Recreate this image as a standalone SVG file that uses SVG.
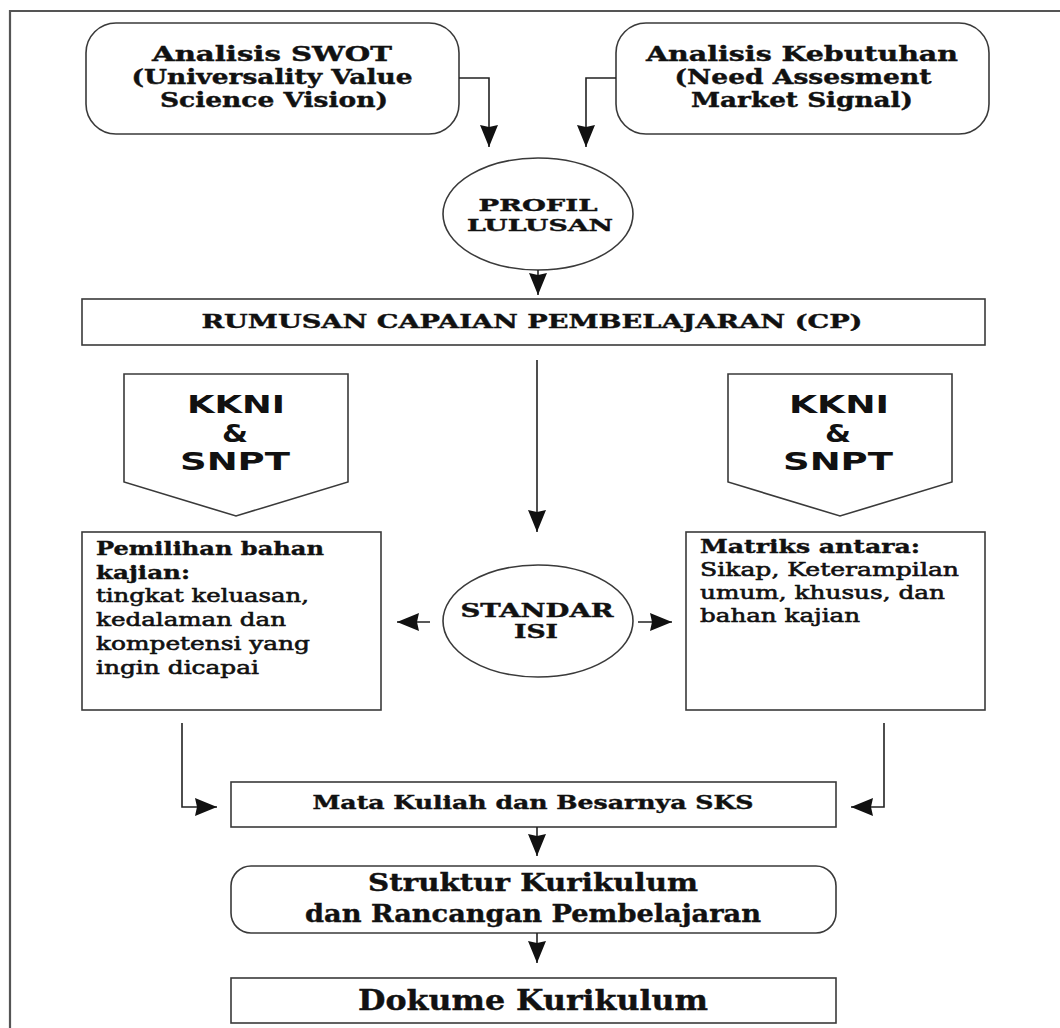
<svg xmlns="http://www.w3.org/2000/svg" width="1060" height="1028" viewBox="0 0 1060 1028">
<defs>
<style>
.box{fill:#fff;stroke:#3a3a3a;stroke-width:1.6}
.ln{fill:none;stroke:#222;stroke-width:1.6}
.sl{font-family:"DejaVu Serif","Liberation Serif",serif;font-weight:bold;fill:#111;stroke:#111;stroke-width:0.4}
.rg{font-family:"DejaVu Serif","Liberation Serif",serif;font-weight:normal;fill:#111;stroke:#111;stroke-width:0.6}
.ss{font-family:"DejaVu Sans","Liberation Sans",sans-serif;font-weight:bold;fill:#111}
</style>
<marker id="ah" markerUnits="userSpaceOnUse" markerWidth="22" markerHeight="18" viewBox="0 0 22 18" refX="22" refY="9" orient="auto">
<path d="M0,0 L22,9 L0,18 L2,9 Z" fill="#111"/>
</marker>
</defs>
<rect width="1060" height="1028" fill="#fff"/>
<path d="M10,1028 V11 H1060" fill="none" stroke="#555" stroke-width="2.2"/>

<g id="swot">
<rect class="box" x="86" y="23" width="373" height="111" rx="30"/>
<text class="sl" font-size="20" x="272" y="61" text-anchor="middle" textLength="240" lengthAdjust="spacingAndGlyphs">Analisis SWOT</text>
<text class="sl" font-size="20" x="272" y="84" text-anchor="middle" textLength="281" lengthAdjust="spacingAndGlyphs">(Universality Value</text>
<text class="sl" font-size="20" x="274" y="107" text-anchor="middle" textLength="228" lengthAdjust="spacingAndGlyphs">Science Vision)</text>
</g>

<g id="kebutuhan">
<rect class="box" x="616" y="23" width="373" height="111" rx="30"/>
<text class="sl" font-size="20" x="802" y="61" text-anchor="middle" textLength="312" lengthAdjust="spacingAndGlyphs">Analisis Kebutuhan</text>
<text class="sl" font-size="20" x="803" y="84" text-anchor="middle" textLength="257" lengthAdjust="spacingAndGlyphs">(Need Assesment</text>
<text class="sl" font-size="20" x="802" y="107" text-anchor="middle" textLength="222" lengthAdjust="spacingAndGlyphs">Market Signal)</text>
</g>

<g id="profil">
<ellipse class="box" cx="538" cy="214" rx="95" ry="56"/>
<text class="sl" font-size="17" x="538" y="211" text-anchor="middle" textLength="119" lengthAdjust="spacingAndGlyphs">PROFIL</text>
<text class="sl" font-size="17" x="540" y="231" text-anchor="middle" textLength="146" lengthAdjust="spacingAndGlyphs">LULUSAN</text>
</g>

<g id="cp">
<rect class="box" x="82" y="299" width="903" height="46"/>
<text class="sl" font-size="18" x="532" y="328" text-anchor="middle" textLength="661" lengthAdjust="spacingAndGlyphs">RUMUSAN CAPAIAN PEMBELAJARAN (CP)</text>
</g>

<g id="kkni-left">
<polygon class="box" points="124,374 348,374 348,482 236,516 124,482"/>
<text class="ss" font-size="24" x="236" y="413" text-anchor="middle" textLength="98" lengthAdjust="spacingAndGlyphs">KKNI</text>
<text class="ss" font-size="24" x="235" y="442" text-anchor="middle" textLength="26" lengthAdjust="spacingAndGlyphs">&amp;</text>
<text class="ss" font-size="24" x="235" y="470" text-anchor="middle" textLength="110" lengthAdjust="spacingAndGlyphs">SNPT</text>
</g>

<g id="kkni-right">
<polygon class="box" points="728,374 952,374 952,482 840,516 728,482"/>
<text class="ss" font-size="24" x="839" y="413" text-anchor="middle" textLength="100" lengthAdjust="spacingAndGlyphs">KKNI</text>
<text class="ss" font-size="24" x="838" y="442" text-anchor="middle" textLength="26" lengthAdjust="spacingAndGlyphs">&amp;</text>
<text class="ss" font-size="24" x="838" y="470" text-anchor="middle" textLength="110" lengthAdjust="spacingAndGlyphs">SNPT</text>
</g>

<g id="pemilihan">
<rect class="box" x="82" y="532" width="299" height="178"/>
<text class="sl" font-size="19" x="96" y="555" textLength="228" lengthAdjust="spacingAndGlyphs">Pemilihan bahan</text>
<text class="sl" font-size="19" x="96" y="579" textLength="94" lengthAdjust="spacingAndGlyphs">kajian:</text>
<text class="rg" font-size="19" x="96" y="602" textLength="213" lengthAdjust="spacingAndGlyphs">tingkat keluasan,</text>
<text class="rg" font-size="19" x="96" y="626" textLength="190" lengthAdjust="spacingAndGlyphs">kedalaman dan</text>
<text class="rg" font-size="19" x="96" y="650" textLength="214" lengthAdjust="spacingAndGlyphs">kompetensi yang</text>
<text class="rg" font-size="19" x="96" y="674" textLength="163" lengthAdjust="spacingAndGlyphs">ingin dicapai</text>
</g>

<g id="standar">
<ellipse class="box" cx="538" cy="621" rx="95" ry="56"/>
<text class="sl" font-size="18" x="537" y="617" text-anchor="middle" textLength="153" lengthAdjust="spacingAndGlyphs">STANDAR</text>
<text class="sl" font-size="18" x="536" y="638" text-anchor="middle" textLength="44" lengthAdjust="spacingAndGlyphs">ISI</text>
</g>

<g id="matriks">
<rect class="box" x="686" y="532" width="299" height="178"/>
<text class="sl" font-size="19" x="700" y="553" textLength="220" lengthAdjust="spacingAndGlyphs">Matriks antara:</text>
<text class="rg" font-size="19" x="700" y="576" textLength="259" lengthAdjust="spacingAndGlyphs">Sikap, Keterampilan</text>
<text class="rg" font-size="19" x="700" y="599" textLength="245" lengthAdjust="spacingAndGlyphs">umum, khusus, dan</text>
<text class="rg" font-size="19" x="700" y="622" textLength="160" lengthAdjust="spacingAndGlyphs">bahan kajian</text>
</g>

<g id="matakuliah">
<rect class="box" x="231" y="782" width="605" height="45"/>
<text class="sl" font-size="18" x="533" y="809" text-anchor="middle" textLength="441" lengthAdjust="spacingAndGlyphs">Mata Kuliah dan Besarnya SKS</text>
</g>

<g id="struktur">
<rect class="box" x="231" y="866" width="605" height="67" rx="20"/>
<text class="sl" font-size="24" x="533" y="891" text-anchor="middle" textLength="330" lengthAdjust="spacingAndGlyphs">Struktur Kurikulum</text>
<text class="sl" font-size="24" x="533" y="922" text-anchor="middle" textLength="456" lengthAdjust="spacingAndGlyphs">dan Rancangan Pembelajaran</text>
</g>

<g id="dokumen">
<rect class="box" x="231" y="978" width="605" height="45"/>
<text class="sl" font-size="27" x="533" y="1010" text-anchor="middle" textLength="350" lengthAdjust="spacingAndGlyphs">Dokume Kurikulum</text>
</g>

<g id="connectors">
<path class="ln" d="M459,78 H489 V147" marker-end="url(#ah)"/>
<path class="ln" d="M616,78 H586 V147" marker-end="url(#ah)"/>
<path class="ln" d="M538,270 V295" marker-end="url(#ah)"/>
<path class="ln" d="M537,360 V532" marker-end="url(#ah)"/>
<path class="ln" d="M430,622 H397" marker-end="url(#ah)"/>
<path class="ln" d="M638,622 H672" marker-end="url(#ah)"/>
<path class="ln" d="M182,723 V807 H217" marker-end="url(#ah)"/>
<path class="ln" d="M884,723 V807 H851" marker-end="url(#ah)"/>
<path class="ln" d="M537,827 V856" marker-end="url(#ah)"/>
<path class="ln" d="M537,933 V963" marker-end="url(#ah)"/>
</g>
</svg>
